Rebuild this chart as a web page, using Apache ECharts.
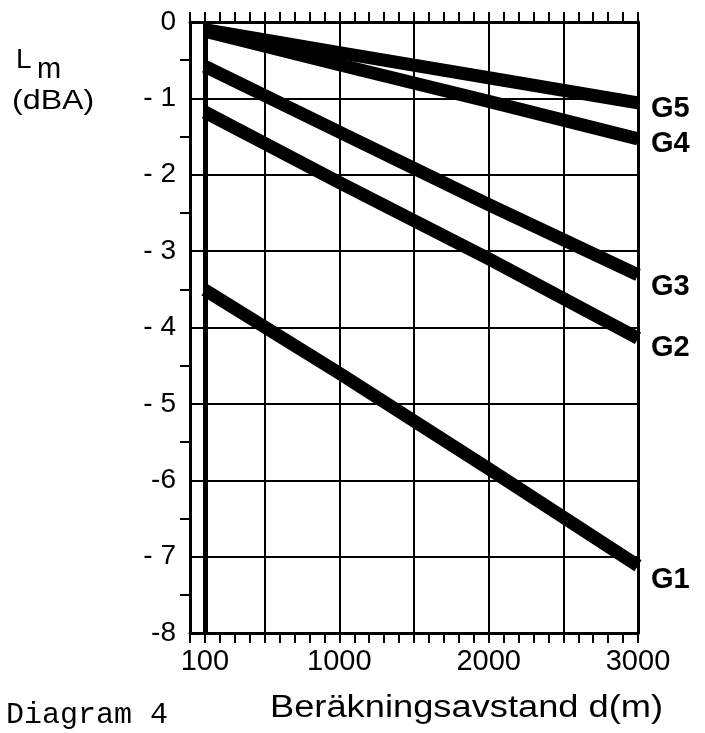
<!DOCTYPE html>
<html><head><meta charset="utf-8">
<script src="https://cdn.jsdelivr.net/npm/echarts@6/dist/echarts.min.js"></script>
<style>html,body{margin:0;padding:0;background:#fff}#c{width:705px;height:733px}</style>
</head><body><div id="c"></div>
<script>
// ---- data ----
const distances = [100, 1000, 2000, 3000];
const seriesNames = ['G1', 'G2', 'G3', 'G4', 'G5'];
const g1 = [-3.51, -4.60, -5.85, -7.12];
const g2 = [-1.18, -2.10, -3.10, -4.14];
const g3 = [-0.58, -1.44, -2.39, -3.31];
const g4 = [-0.12, -0.56, -1.04, -1.53];
const g5 = [-0.10, -0.40, -0.73, -1.06];
const xTickLabels = [100, 1000, 2000, 3000];
const yTickValues = [0, -1, -2, -3, -4, -5, -6, -7, -8];
const yTickTexts = ['0', '- 1', '- 2', '- 3', '- 4', '- 5', '-6', '- 7', '-8'];
const referenceDistance = 100;
const xMin = 0, xMax = 3000, yMin = -8, yMax = 0;

// ---- styling ----
const seriesData = [g1, g2, g3, g4, g5];
const endLabelDy = [14, 10, 12, 5, 6];
const FONT = 'Liberation Sans';

const chart = echarts.init(document.getElementById('c'), null, {renderer: 'canvas'});

const series = seriesData.map((arr, i) => ({
  name: seriesNames[i],
  type: 'line',
  xAxisIndex: 0, yAxisIndex: 0,
  data: distances.map((d, j) => [d, arr[j]]),
  symbol: 'none',
  clip: true,
  silent: true,
  lineStyle: {color: '#000', width: 13, cap: 'butt', join: 'round'},
  endLabel: {
    show: true, formatter: seriesNames[i], color: '#000',
    fontFamily: FONT, fontWeight: 'bold', fontSize: 29,
    distance: 13, offset: [0, endLabelDy[i]]
  },
  markLine: i === 0 ? {
    symbol: 'none', silent: true, label: {show: false},
    lineStyle: {color: '#000', width: 5, type: 'solid'},
    data: [{xAxis: referenceDistance}]
  } : undefined
}));

const axisLineStyle = {color: '#000', width: 3};
const tickStyle = {color: '#000', width: 2};

chart.setOption({
  animation: false,
  backgroundColor: '#fff',
  grid: {left: 190, right: 67, top: 22, bottom: 100, containLabel: false},
  xAxis: [
    {
      type: 'value', position: 'bottom', min: xMin, max: xMax, interval: 100,
      axisLine: {show: true, onZero: false, lineStyle: axisLineStyle},
      axisTick: {show: true, inside: false, length: 10, lineStyle: tickStyle},
      axisLabel: {
        formatter: v => xTickLabels.includes(v) ? String(v) : '',
        color: '#000', fontFamily: FONT, fontSize: 29, margin: 14, hideOverlap: false
      },
      splitLine: {show: false}
    },
    {
      type: 'value', position: 'top', min: xMin, max: xMax, interval: 100,
      axisLine: {show: true, onZero: false, lineStyle: axisLineStyle},
      axisTick: {show: true, inside: false, length: 10, lineStyle: tickStyle},
      axisLabel: {show: false},
      splitLine: {show: false}
    },
    {
      type: 'value', position: 'bottom', min: xMin, max: xMax, interval: 500,
      axisLine: {show: false}, axisTick: {show: false}, axisLabel: {show: false},
      splitLine: {show: true, lineStyle: {color: '#000', width: 2}}
    }
  ],
  yAxis: [
    {
      type: 'value', position: 'left', min: yMin, max: yMax, interval: 1,
      axisLine: {show: true, onZero: false, lineStyle: axisLineStyle},
      axisTick: {show: false},
      minorTick: {show: true, splitNumber: 2, length: 10, lineStyle: tickStyle},
      minorSplitLine: {show: false},
      axisLabel: {
        formatter: v => { const k = yTickValues.indexOf(v); return k >= 0 ? yTickTexts[k] : ''; },
        color: '#000', fontFamily: FONT, fontSize: 28, margin: 14
      },
      splitLine: {show: true, lineStyle: {color: '#000', width: 2}}
    },
    {
      type: 'value', position: 'right', min: yMin, max: yMax, interval: 1,
      axisLine: {show: true, onZero: false, lineStyle: axisLineStyle},
      axisTick: {show: false}, axisLabel: {show: false}, splitLine: {show: false}
    }
  ],
  graphic: [
    {type: 'text', left: 16, top: 46, style: {text: 'L', fontFamily: FONT, fontSize: 28, fill: '#000'}},
    {type: 'text', left: 37, top: 55, style: {text: 'm', fontFamily: FONT, fontSize: 29, fill: '#000'}},
    {type: 'text', left: 12, top: 87, scaleX: 1.15, style: {text: '(dBA)', fontFamily: FONT, fontSize: 28, fill: '#000'}},
    {type: 'text', left: 6, top: 700, style: {text: 'Diagram 4', fontFamily: 'Liberation Mono', fontSize: 30, fill: '#000'}},
    {type: 'text', left: 270, top: 693, scaleX: 1.17, style: {text: 'Beräkningsavstand d(m)', fontFamily: FONT, fontSize: 31, fill: '#000'}}
  ],
  series: series
});
</script>
</body></html>
